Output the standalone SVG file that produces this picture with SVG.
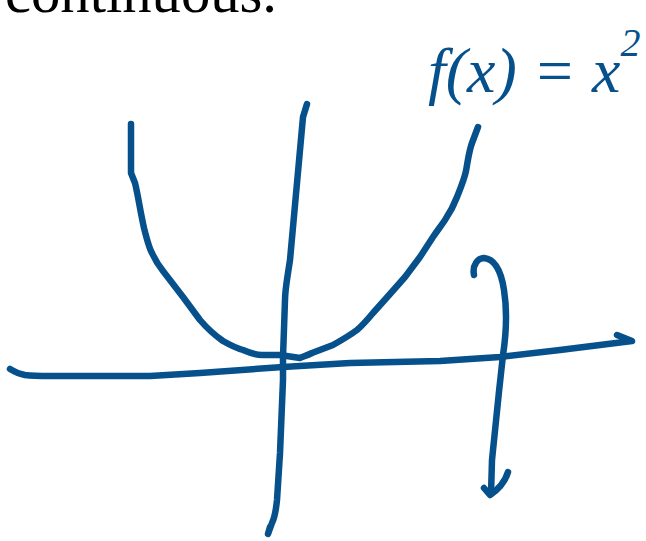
<svg xmlns="http://www.w3.org/2000/svg" width="646" height="541" viewBox="0 0 646 541">
<style>
.ink{fill:none;stroke:#06508c;stroke-width:6.5;stroke-linecap:round;stroke-linejoin:round}
.hand{fill:#06508c;font-family:"Liberation Serif",serif;font-style:italic}
</style>
<rect width="646" height="541" fill="#ffffff"/>
<text x="5" y="12" font-family="Liberation Serif, serif" font-size="60" fill="#000" textLength="272" lengthAdjust="spacingAndGlyphs">continuous.</text>
<g id="parabola">
<path class="ink" d="M131,124 L131,173 L135,183 C138,195 140,210 144,228 C147,240 149,248 152,253 C156,262 159,266 163,271 L183,297 L200,320 C206,327 213,334 223,341 C230,345 236,348 243,350 C250,353 256,355 262,355 L280,355 L300,358 C305,356 308,355 312,353 L333,345 C340,341 349,336 357,330 C363,325 368,319 373,313 L390,294 L405,277 L420,257 L433,237 C437,231 441,226 445,220 C451,211 454,205 457,197 C461,187 464,180 466,171 C468,160 469,151 472,143 L478,127"/>
</g>
<g id="y-axis">
<path class="ink" d="M307,104 L303,117 L297,183 L290,260 C287,280 285,290 285,300 L283,357 L283,380 L280,453 L277,500 C276,510 275,517 272,523 L268,534 L270,527"/>
</g>
<g id="x-axis">
<path class="ink" d="M10,369 C15,372 19,374 25,375 C33,376 40,376 50,376 L150,376 L200,373 L283,367 L350,363 L440,361 L500,357 L560,350 L600,345 L632,341 L617,335"/>
</g>
<g id="curl-arrow">
<path class="ink" d="M474,275 C472,265 478,258 484,258 C494,259 501,270 504,290 C508,315 506,335 503,355 C499,390 495,430 492,460 L491,494"/>
<path class="ink" d="M484,488 L490,495 C499,489 505,482 508,472"/>
</g>
<g id="label">
<text class="hand" x="428" y="92" font-size="64">f(x) = x<tspan dy="-36" font-size="40">2</tspan></text>
</g>
</svg>
